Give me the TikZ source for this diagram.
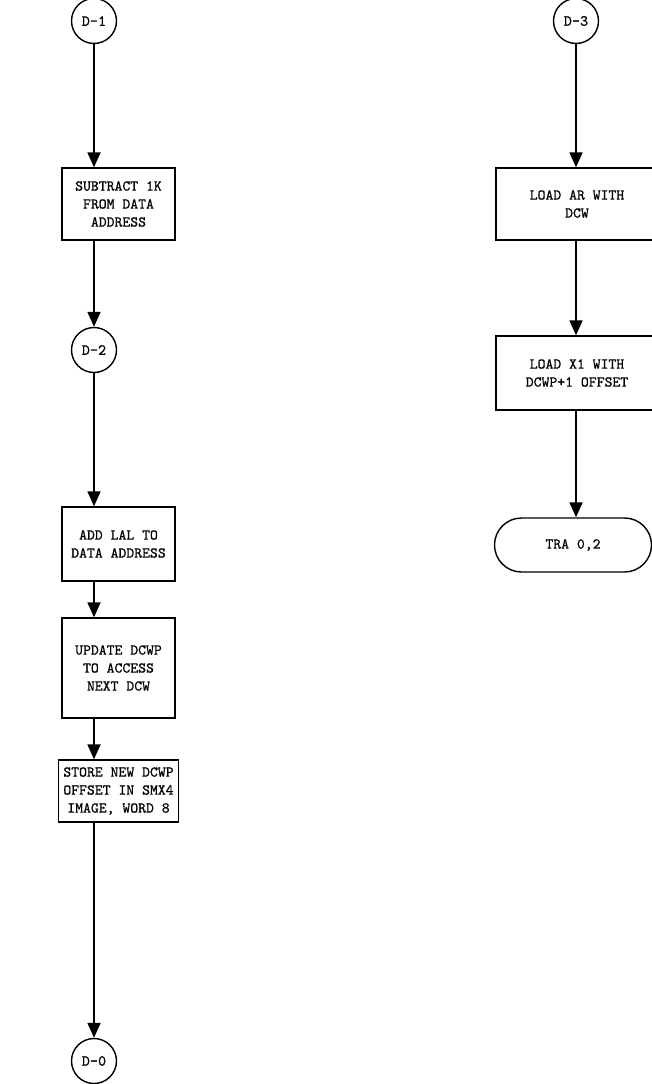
\documentclass[tikz,border=0pt]{standalone}
\usepackage{tikz}
\usepackage{fontspec}
\usetikzlibrary{arrows.meta, shapes.misc}
\newfontfamily\typer{lmmono10-regular.otf}[FakeBold=0.8]
\tikzset{
    % Node styles - plain flowchart boxes
    procbox/.style={
        rectangle,
        draw=black,
        line width=1.4pt,
        minimum width=113pt,
        minimum height=72pt,
        align=center,
        inner sep=0pt,
        font=\typer\fontsize{15}{18}\selectfont
    },
    linkcircle/.style={
        circle,
        draw=black,
        line width=1.4pt,
        minimum size=45pt,
        inner sep=0pt,
        font=\typer\fontsize{15.5}{18}\selectfont
    },
    termbox/.style={
        rounded rectangle,
        draw=black,
        line width=1.4pt,
        minimum width=157pt,
        minimum height=54pt,
        inner sep=0pt,
        font=\typer\fontsize{15}{18}\selectfont
    },
    % Arrow style
    myarrow/.style={
        -{Triangle[length=15pt,width=13pt]},
        line width=1.8pt
    }
}
\begin{document}
\begin{tikzpicture}[x=1pt, y=-1pt]
    \useasboundingbox (0,0) rectangle (652,1084);

    % left column
    \node[linkcircle] (d1) at (94,21) {D-1};
    \node[procbox] (sub) at (118.5,204) {SUBTRACT 1K\\FROM DATA\\ADDRESS};
    \node[linkcircle] (d2) at (94,350) {D-2};
    \node[procbox, minimum height=74pt] (add) at (118.5,544) {ADD LAL TO\\DATA ADDRESS};
    \node[procbox, minimum height=100pt] (upd) at (118.5,668) {UPDATE DCWP\\TO ACCESS\\NEXT DCW};
    \node[procbox, minimum width=120pt, minimum height=62pt] (sto) at (118.5,791) {STORE NEW DCWP\\OFFSET IN SMX4\\IMAGE, WORD 8};
    \node[linkcircle] (d0) at (94,1061) {D-0};

    % right column
    \node[linkcircle] (d3) at (576,21) {D-3};
    \node[procbox, minimum width=162pt] (lar) at (577,204) {LOAD AR WITH\\DCW};
    \node[procbox, minimum width=162pt, minimum height=74pt] (lx1) at (577,373) {LOAD X1 WITH\\DCWP+1 OFFSET};
    \node[termbox] (tra) at (573,545) {TRA 0,2};

    \draw[myarrow] (d1.south) -- (d1.south |- sub.north);
    \draw[myarrow] (sub.south -| d2) -- (d2.north);
    \draw[myarrow] (d2.south) -- (d2.south |- add.north);
    \draw[myarrow] (add.south -| d2) -- (d2 |- upd.north);
    \draw[myarrow] (upd.south -| d2) -- (d2 |- sto.north);
    \draw[myarrow] (sto.south -| d0) -- (d0.north);

    \draw[myarrow] (d3.south) -- (d3.south |- lar.north);
    \draw[myarrow] (lar.south -| d3) -- (d3 |- lx1.north);
    \draw[myarrow] (lx1.south -| d3) -- (d3 |- tra.north);
\end{tikzpicture}
\end{document}
